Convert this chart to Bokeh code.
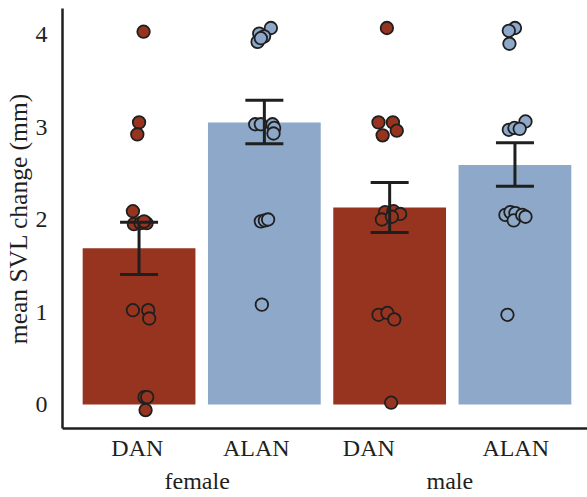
from bokeh.plotting import figure
from bokeh.models import ColumnDataSource, Whisker, TeeHead, LinearAxis, FixedTicker, Range1d
from bokeh.embed import file_html
from bokeh.resources import INLINE

# ---- data ----
bar_pos = [1, 2, 3, 4]
treatments = ["DAN", "ALAN", "DAN", "ALAN"]
sexes = ["female", "male"]
bar_means = [1.69, 3.05, 2.13, 2.59]
err_lower = [1.405, 2.82, 1.86, 2.36]
err_upper = [1.97, 3.29, 2.40, 2.83]

# tick label positions (as drawn in the reference)
treat_label_pos = [0.986, 1.936, 2.834, 4.006]
sex_label_pos = [1.464, 3.48]

# individual points: horizontal jitter and value
f_dan_jit = [0.036, 0.0, -0.014, -0.049, -0.041, 0.012, 0.06, 0.04, -0.049, 0.073, 0.081, 0.044, 0.065, 0.052]
f_dan_val = [4.03, 3.05, 2.92, 2.09, 1.95, 1.96, 1.96, 1.98, 1.02, 1.02, 0.93, 0.08, 0.08, -0.06]
f_alan_jit = [0.052, -0.041, -0.002, -0.054, -0.028, -0.073, -0.028, 0.065, 0.078, 0.073, -0.028, 0.004, 0.03, -0.02]
f_alan_val = [4.07, 4.01, 3.98, 3.92, 3.96, 3.03, 3.03, 3.03, 2.99, 2.93, 1.98, 1.99, 2.00, 1.08]
m_dan_jit = [-0.022, -0.089, 0.026, 0.057, -0.056, -0.036, 0.031, 0.084, -0.062, 0.018, -0.089, -0.018, 0.037, 0.012]
m_dan_val = [4.07, 3.05, 3.05, 2.96, 2.91, 2.08, 2.09, 2.06, 2.00, 2.03, 0.97, 0.99, 0.92, 0.02]
m_alan_jit = [0.0, -0.049, -0.044, 0.084, -0.049, -0.004, 0.038, -0.076, -0.036, 0.004, -0.01, 0.058, 0.084, -0.06]
m_alan_val = [4.07, 4.04, 3.90, 3.06, 2.97, 2.99, 2.98, 2.05, 2.08, 2.07, 1.99, 2.05, 2.03, 0.97]

RED = "#97341f"
BLUE = "#8da8c8"
bar_colors = [RED, BLUE, RED, BLUE]
FONT = "Liberation Serif"
INK = "#1f1f1f"

p = figure(width=587, height=497, x_range=Range1d(0.389, 4.579), y_range=Range1d(-0.259, 4.281),
           output_backend="svg", toolbar_location=None,
           min_border_left=62, min_border_right=0, min_border_top=8, min_border_bottom=69,
           x_axis_location=None)
p.outline_line_color = None
p.grid.grid_line_color = None
p.background_fill_color = "white"
p.border_fill_color = "white"

bars = ColumnDataSource(dict(x=bar_pos, top=bar_means, color=bar_colors,
                             lower=err_lower, upper=err_upper))
p.vbar(x="x", top="top", bottom=0, width=0.9, fill_color="color", line_color=None, source=bars)

jit_groups = [f_dan_jit, f_alan_jit, m_dan_jit, m_alan_jit]
val_groups = [f_dan_val, f_alan_val, m_dan_val, m_alan_val]
px, py, pc = [], [], []
for pos, jits, vals, col in zip(bar_pos, jit_groups, val_groups, bar_colors):
    for j, v in zip(jits, vals):
        px.append(pos + j)
        py.append(v)
        pc.append(col)
pts = ColumnDataSource(dict(x=px, y=py, color=pc))
p.scatter(x="x", y="y", size=12.5, fill_color="color", line_color=INK, line_width=1.8, source=pts)

w = Whisker(base="x", lower="lower", upper="upper", source=bars, line_color=INK, line_width=3,
            upper_head=TeeHead(size=38, line_color=INK, line_width=3),
            lower_head=TeeHead(size=38, line_color=INK, line_width=3),
            level="annotation")
p.add_layout(w)

# y axis
ya = p.yaxis[0]
ya.ticker = FixedTicker(ticks=[0, 1, 2, 3, 4])
ya.axis_label = "mean SVL change (mm)"
ya.axis_label_text_font = FONT
ya.axis_label_text_font_style = "normal"
ya.axis_label_text_font_size = "25.5px"
ya.axis_label_text_color = INK
ya.axis_label_standoff = 0
ya.major_label_text_font = FONT
ya.major_label_text_font_size = "24px"
ya.major_label_text_color = INK
ya.major_label_standoff = 9
ya.major_tick_line_color = None
ya.minor_tick_line_color = None
ya.axis_line_color = INK
ya.axis_line_width = 2.5

# x axis: treatment labels
xa = LinearAxis(ticker=FixedTicker(ticks=treat_label_pos),
                major_label_overrides={pos: t for pos, t in zip(treat_label_pos, treatments)})
xa.major_tick_line_color = None
xa.minor_tick_line_color = None
xa.axis_line_color = INK
xa.axis_line_width = 2.5
xa.major_label_text_font = FONT
xa.major_label_text_font_size = "24px"
xa.major_label_text_color = INK
xa.major_label_standoff = 0
p.add_layout(xa, "below")

# second x axis: sex labels
xb = LinearAxis(ticker=FixedTicker(ticks=sex_label_pos),
                major_label_overrides={pos: s for pos, s in zip(sex_label_pos, sexes)})
xb.major_tick_line_color = None
xb.minor_tick_line_color = None
xb.axis_line_color = None
xb.major_label_text_font = FONT
xb.major_label_text_font_size = "24px"
xb.major_label_text_color = INK
xb.major_label_standoff = -2
p.add_layout(xb, "below")

open("out.html", "w").write(file_html(p, INLINE))
